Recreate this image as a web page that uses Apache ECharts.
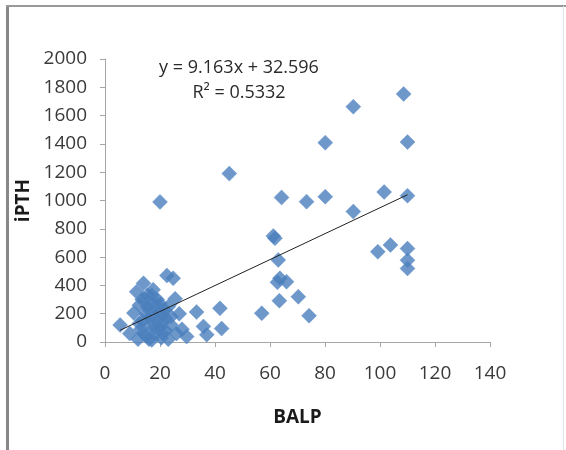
<!DOCTYPE html>
<html>
<head>
<meta charset="utf-8">
<script src="https://cdn.jsdelivr.net/npm/echarts@6/dist/echarts.min.js"></script>
<style>
  html, body { margin: 0; padding: 0; background: #fff; }
  #chart { width: 566px; height: 450px; }
</style>
</head>
<body>
<div id="chart"></div>
<script>
// BALP (x) values
var balp = [
  5.5, 9, 10.5, 11.5, 12, 13, 13.5, 14, 14.5, 15, 15.5, 16, 16.5, 17, 17, 18, 18.5, 19, 19.5, 20,
  20.5, 21, 21.5, 22, 22.5, 23, 24, 24, 24.8, 25.5, 26, 27, 28, 29.7, 33.3, 35.8, 37, 41.8, 42.4,
  12.5, 13.5, 15, 16, 17, 18, 19, 20, 21, 22, 23, 14, 16, 18, 19, 20, 21, 17.5, 15.5, 12.5,
  20, 45.2, 57, 61.2, 61.8, 62.7, 63, 63.4, 63.6, 64.2, 66, 70.3, 73.3, 74.2, 80.1, 80.1, 90.3, 90.3,
  99.2, 101.5, 103.8, 108.6, 110, 110, 110, 110, 110
];
// iPTH (y) values
var ipth = [
  120, 60, 205, 355, 20, 90, 150, 415, 300, 45, 330, 230, 120, 280, 15, 175, 60, 260, 100, 200,
  30, 140, 230, 80, 470, 20, 120, 180, 450, 305, 60, 200, 90, 38, 212, 110, 52, 238, 95,
  260, 300, 200, 170, 330, 240, 150, 270, 60, 170, 250, 60, 20, 100, 300, 100, 190, 370, 250, 130,
  990, 1190, 203, 749, 733, 422, 580, 292, 450, 1022, 426, 320, 992, 186, 1409, 1027, 1663, 922,
  638, 1060, 685, 1753, 1413, 1034, 660, 578, 520
];
var xTicks = [0, 20, 40, 60, 80, 100, 120, 140];
var yTicks = [0, 200, 400, 600, 800, 1000, 1200, 1400, 1600, 1800, 2000];
var slope = 9.163, intercept = 32.596;
var eqText = 'y = 9.163x + 32.596';
var r2Text = 'R\u00b2 = 0.5332';

var points = balp.map(function (x, i) { return [x, ipth[i]]; });
var xmin = Math.min.apply(null, balp), xmax = Math.max.apply(null, balp);
var trend = [[xmin, slope * xmin + intercept], [xmax, slope * xmax + intercept]];

var font = 'Open Sans';
var chart = echarts.init(document.getElementById('chart'));
chart.setOption({
  animation: false,
  backgroundColor: '#ffffff',
  grid: { left: 105, top: 59, width: 385, height: 283 },
  xAxis: {
    type: 'value', min: xTicks[0], max: xTicks[xTicks.length - 1], interval: 20,
    name: 'BALP', nameLocation: 'middle', nameGap: 66,
    nameTextStyle: { fontFamily: font, fontSize: 19, fontWeight: 'bold', color: '#1a1a1a' },
    axisLine: { lineStyle: { color: '#a6a6a6', width: 1 } },
    axisTick: { show: true, length: 5, lineStyle: { color: '#a6a6a6' } },
    axisLabel: { fontFamily: font, fontSize: 19, color: '#3a3a3a', margin: 22,
      formatter: function (v) { return String(v); } },
    splitLine: { show: false }
  },
  yAxis: {
    type: 'value', min: yTicks[0], max: yTicks[yTicks.length - 1], interval: 200,
    name: 'iPTH', nameLocation: 'middle', nameGap: 72, nameRotate: 90,
    nameTextStyle: { fontFamily: font, fontSize: 19, fontWeight: 'bold', color: '#1a1a1a' },
    axisLine: { show: true, lineStyle: { color: '#a6a6a6', width: 1 } },
    axisTick: { show: true, length: 5, lineStyle: { color: '#a6a6a6' } },
    axisLabel: { fontFamily: font, fontSize: 19, color: '#3a3a3a', margin: 18,
      formatter: function (v) { return String(v); } },
    splitLine: { show: false }
  },
  series: [
    {
      type: 'scatter', data: points, symbol: 'diamond', symbolSize: 15,
      itemStyle: { color: '#4a7ebb', borderColor: '#5b8ccc', borderWidth: 0.5 },
      z: 2
    },
    {
      type: 'line', data: trend, symbol: 'none', silent: true,
      lineStyle: { color: '#222', width: 1 }, z: 3
    }
  ],
  graphic: [
    { type: 'line', shape: { x1: 7.5, y1: 5, x2: 7.5, y2: 450 },
      style: { stroke: '#888', lineWidth: 3 }, silent: true },
    { type: 'line', shape: { x1: 6, y1: 6, x2: 566, y2: 6 },
      style: { stroke: '#999', lineWidth: 2 }, silent: true },
    { type: 'line', shape: { x1: 563.5, y1: 6, x2: 563.5, y2: 450 },
      style: { stroke: '#e4e4e4', lineWidth: 1 }, silent: true },
    { type: 'text', x: 239, y: 68,
      style: { text: eqText, fontFamily: font, fontSize: 18, fill: '#2a2a2a', textAlign: 'center', textVerticalAlign: 'middle' } },
    { type: 'text', x: 239, y: 93,
      style: { text: r2Text, fontFamily: font, fontSize: 18, fill: '#2a2a2a', textAlign: 'center', textVerticalAlign: 'middle' } }
  ]
});
</script>
</body>
</html>
